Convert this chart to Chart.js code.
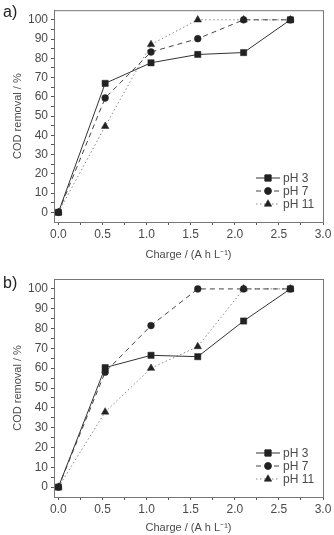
<!DOCTYPE html>
<html>
<head>
<meta charset="utf-8">
<script src="https://cdn.jsdelivr.net/npm/chart.js@4/dist/chart.umd.min.js"></script>
<style>
  body { margin: 0; background: #fff; }
  .panel { position: relative; width: 334px; }
  .tag { position: absolute; left: 3px; font: 16px 'Liberation Sans', Arial, sans-serif; color: #222; }
</style>
</head>
<body>
<div class="panel" style="height:262px"><canvas id="chartA"></canvas><div class="tag" style="top:3px">a)</div></div>
<div class="panel" style="height:273px"><canvas id="chartB"></canvas><div class="tag" style="top:12px">b)</div></div>
<script>
const charge = [0, 0.53, 1.05, 1.58, 2.1, 2.63];
const aPH3 = [0, 67, 77.7, 82, 83, 100];
const aPH7 = [0, 59.4, 83.3, 90.2, 100, 100];
const aPH11 = [0, 44.7, 87.2, 100, 100, 100];
const bPH3 = [0, 60.3, 66.5, 65.8, 83.8, 100];
const bPH7 = [0, 58, 81.5, 100, 100, 100];
const bPH11 = [0, 37.9, 60, 70.9, 100, 100];
const seriesLabels = ['pH 3', 'pH 7', 'pH 11'];
const xTicks = [0, 0.25, 0.5, 0.75, 1, 1.25, 1.5, 1.75, 2, 2.25, 2.5, 2.75, 3];
const yTicks = [0, 5, 10, 15, 20, 25, 30, 35, 40, 45, 50, 55, 60, 65, 70, 75, 80, 85, 90, 95, 100];

const FONT = "'Liberation Sans', Arial, sans-serif";
const TXT = '#4a4a4a';

const styles = [
    { borderDash: [], pointStyle: 'rect', pointRadius: 4.4, borderColor: '#333' },
    { borderDash: [5, 4], pointStyle: 'circle', pointRadius: 3.4, borderColor: '#444' },
    { borderDash: [1.5, 2.5], pointStyle: 'triangle', pointRadius: 4.3, borderColor: '#888' },
];

const framePlugin = {
    id: 'frame',
    afterDatasetsDraw(chart) {
        const {ctx, chartArea: a} = chart;
        ctx.save();
        ctx.strokeStyle = '#777';
        ctx.lineWidth = 1;
        ctx.strokeRect(a.left + 0.5, a.top + 0.5, a.right - a.left, a.bottom - a.top);
        ctx.restore();
    }
};

const legendPlugin = {
    id: 'lineLegend',
    afterDraw(chart) {
        const {ctx, chartArea: a} = chart;
        ctx.save();
        chart.data.datasets.forEach((ds, i) => {
            const y = a.bottom - 44 + i * 13;
            ctx.strokeStyle = ds.borderColor;
            ctx.lineWidth = 1;
            ctx.setLineDash(ds.borderDash);
            ctx.beginPath();
            ctx.moveTo(a.right - 67, y);
            ctx.lineTo(a.right - 43, y);
            ctx.stroke();
            ctx.setLineDash([]);
            Chart.helpers.drawPoint(ctx, {
                pointStyle: ds.pointStyle, radius: ds.pointRadius, rotation: 0, borderWidth: 1
            }, a.right - 55, y);
            ctx.fillStyle = '#222';
            ctx.fill();
            ctx.fillStyle = TXT;
            ctx.font = '12px ' + FONT;
            ctx.textBaseline = 'middle';
            ctx.fillText(ds.label, a.right - 40, y + 0.5);
        });
        ctx.restore();
    }
};

function makeChart(id, values, padTop, xHeight) {
    return new Chart(document.getElementById(id), {
        type: 'line',
        plugins: [framePlugin, legendPlugin],
        data: {
            datasets: values.map((v, i) => ({
                label: seriesLabels[i],
                data: charge.map((x, j) => ({x: x, y: v[j]})),
                borderColor: styles[i].borderColor,
                borderWidth: 1,
                borderDash: styles[i].borderDash,
                pointStyle: styles[i].pointStyle,
                pointRadius: styles[i].pointRadius,
                pointBackgroundColor: '#222',
                pointBorderColor: '#222',
                pointBorderWidth: 0.5,
                tension: 0,
            }))
        },
        options: {
            responsive: true,
            maintainAspectRatio: false,
            animation: false,
            layout: { padding: { top: padTop, right: 11, left: 0, bottom: 0 } },
            scales: {
                x: {
                    type: 'linear',
                    min: -0.05,
                    max: 3.0,
                    afterBuildTicks: s => { s.ticks = xTicks.map(v => ({value: v})); },
                    afterFit: s => { s.height = xHeight; },
                    grid: { drawOnChartArea: false, tickLength: 3, color: '#555' },
                    border: { color: '#555' },
                    ticks: {
                        color: TXT, font: { family: FONT, size: 12 }, padding: 2,
                        maxRotation: 0, autoSkip: false,
                        callback: v => (Math.round(v * 100) % 50 === 0 ? v.toFixed(1) : '')
                    },
                    title: {
                        display: true, text: 'Charge / (A h L\u207B\u00B9)',
                        color: TXT, font: { family: FONT, size: 11 },
                        padding: { top: 0, bottom: 0 }
                    }
                },
                y: {
                    min: -5,
                    max: 105,
                    afterBuildTicks: s => { s.ticks = yTicks.map(v => ({value: v})); },
                    afterFit: s => { s.width = 54; },
                    grid: { drawOnChartArea: false, tickLength: 3, color: '#555' },
                    border: { color: '#555' },
                    ticks: {
                        color: TXT, font: { family: FONT, size: 12 }, padding: 3,
                        autoSkip: false,
                        callback: v => (v % 10 === 0 ? String(v) : '')
                    },
                    title: {
                        display: true, text: 'COD removal / %',
                        color: TXT, font: { family: FONT, size: 11 },
                        padding: { top: 11, bottom: 0 }
                    }
                }
            },
            plugins: {
                legend: { display: false },
                tooltip: { enabled: false }
            }
        }
    });
}

makeChart('chartA', [aPH3, aPH7, aPH11], 5, 40);
makeChart('chartB', [bPH3, bPH7, bPH11], 17, 38);
</script>
</body>
</html>
